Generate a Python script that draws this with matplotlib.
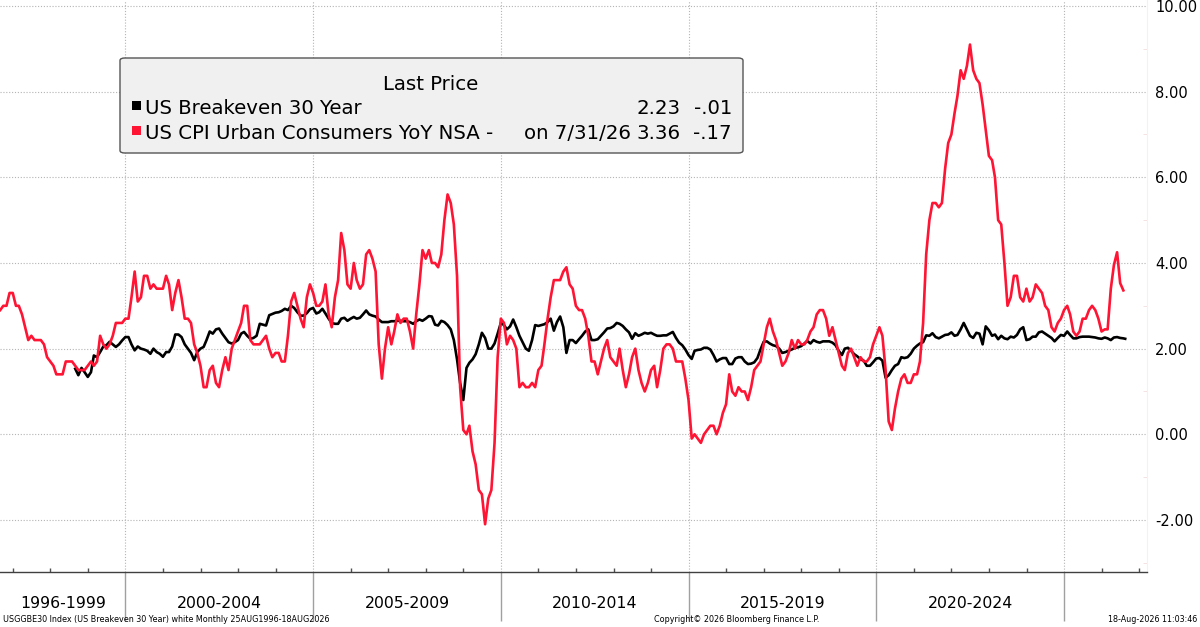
import pandas as pd
import matplotlib
matplotlib.use("Agg")
import matplotlib.pyplot as plt
import matplotlib.dates as mdates
from matplotlib.patches import FancyBboxPatch, Rectangle
from matplotlib.transforms import blended_transform_factory

plt.rcParams['font.family'] = ['DejaVu Sans']
plt.rcParams['axes.unicode_minus'] = False

W, H = 1200, 627
RED = '#ff1434'

# US CPI Urban Consumers YoY NSA, monthly from Aug 1996
cpi_start = "1996-08-01"
cpi_yoy = [
    2.9, 3.0, 3.0, 3.3, 3.3,
    3.0, 3.0, 2.8, 2.5, 2.2, 2.3, 2.2, 2.2, 2.2, 2.1, 1.8, 1.7,
    1.6, 1.4, 1.4, 1.4, 1.7, 1.7, 1.7, 1.6, 1.5, 1.5, 1.5, 1.6,
    1.7, 1.6, 1.7, 2.3, 2.1, 2.0, 2.1, 2.3, 2.6, 2.6, 2.6, 2.7,
    2.7, 3.2, 3.8, 3.1, 3.2, 3.7, 3.7, 3.4, 3.5, 3.4, 3.4, 3.4,
    3.7, 3.5, 2.9, 3.3, 3.6, 3.2, 2.7, 2.7, 2.6, 2.1, 1.9, 1.6,
    1.1, 1.1, 1.5, 1.6, 1.2, 1.1, 1.5, 1.8, 1.5, 2.0, 2.2, 2.4,
    2.6, 3.0, 3.0, 2.2, 2.1, 2.1, 2.1, 2.2, 2.3, 2.0, 1.8, 1.9,
    1.9, 1.7, 1.7, 2.3, 3.1, 3.3, 3.0, 2.7, 2.5, 3.2, 3.5, 3.3,
    3.0, 3.0, 3.1, 3.5, 2.8, 2.5, 3.2, 3.6, 4.7, 4.3, 3.5, 3.4,
    4.0, 3.6, 3.4, 3.5, 4.2, 4.3, 4.1, 3.8, 2.1, 1.3, 2.0, 2.5,
    2.1, 2.4, 2.8, 2.6, 2.7, 2.7, 2.4, 2.0, 2.8, 3.5, 4.3, 4.1,
    4.3, 4.0, 4.0, 3.9, 4.2, 5.0, 5.6, 5.4, 4.9, 3.7, 1.1, 0.1,
    0.0, 0.2, -0.4, -0.7, -1.3, -1.4, -2.1, -1.5, -1.3, -0.2, 1.8, 2.7,
    2.6, 2.1, 2.3, 2.2, 2.0, 1.1, 1.2, 1.1, 1.1, 1.2, 1.1, 1.5,
    1.6, 2.1, 2.7, 3.2, 3.6, 3.6, 3.6, 3.8, 3.9, 3.5, 3.4, 3.0,
    2.9, 2.9, 2.7, 2.3, 1.7, 1.7, 1.4, 1.7, 2.0, 2.2, 1.8, 1.7,
    1.6, 2.0, 1.5, 1.1, 1.4, 1.8, 2.0, 1.5, 1.2, 1.0, 1.2, 1.5,
    1.6, 1.1, 1.5, 2.0, 2.1, 2.1, 2.0, 1.7, 1.7, 1.7, 1.3, 0.8,
    -0.1, 0.0, -0.1, -0.2, 0.0, 0.1, 0.2, 0.2, 0.0, 0.2, 0.5, 0.7,
    1.4, 1.0, 0.9, 1.1, 1.0, 1.0, 0.8, 1.1, 1.5, 1.6, 1.7, 2.1,
    2.5, 2.7, 2.4, 2.2, 1.9, 1.6, 1.7, 1.9, 2.2, 2.0, 2.2, 2.1,
    2.1, 2.2, 2.4, 2.5, 2.8, 2.9, 2.9, 2.7, 2.3, 2.5, 2.2, 1.9,
    1.6, 1.5, 1.9, 2.0, 1.8, 1.6, 1.8, 1.7, 1.7, 1.8, 2.1, 2.3,
    2.5, 2.3, 1.5, 0.3, 0.1, 0.6, 1.0, 1.3, 1.4, 1.2, 1.2, 1.4,
    1.4, 1.7, 2.6, 4.2, 5.0, 5.4, 5.4, 5.3, 5.4, 6.2, 6.8, 7.0,
    7.5, 7.9, 8.5, 8.3, 8.6, 9.1, 8.5, 8.3, 8.2, 7.7, 7.1, 6.5,
    6.4, 6.0, 5.0, 4.9, 4.0, 3.0, 3.2, 3.7, 3.7, 3.2, 3.1, 3.4,
    3.1, 3.2, 3.5, 3.4, 3.3, 3.0, 2.9, 2.5, 2.4, 2.6, 2.7, 2.9,
    3.0, 2.8, 2.4, 2.3, 2.4, 2.7, 2.7, 2.9, 3.0, 2.9, 2.7, 2.4,
    2.45, 2.45, 3.4, 3.95, 4.25, 3.53, 3.36,
]

# US Breakeven 30 Year, monthly from Aug 1998, last point 18 Aug 2026
be_start = "1998-08-01"
be_last_day = "2026-08-18"
be30 = [
    1.53, 1.38, 1.55, 1.45, 1.34,
    1.45, 1.84, 1.80, 1.92, 2.05, 2.08, 2.16, 2.10, 2.04, 2.10, 2.19, 2.27,
    2.27, 2.10, 1.96, 2.05, 2.00, 1.98, 1.95, 1.88, 2.00, 1.92, 1.88, 1.81,
    1.92, 1.92, 2.05, 2.33, 2.33, 2.27, 2.10, 2.00, 1.90, 1.73, 1.92, 2.00,
    2.04, 2.20, 2.40, 2.35, 2.45, 2.47, 2.35, 2.25, 2.15, 2.12, 2.15, 2.20,
    2.35, 2.39, 2.30, 2.23, 2.25, 2.30, 2.58, 2.56, 2.54, 2.78, 2.81, 2.84,
    2.85, 2.88, 2.93, 2.90, 3.00, 2.95, 2.85, 2.77, 2.77, 2.83, 2.92, 2.95,
    2.82, 2.85, 2.93, 2.82, 2.70, 2.60, 2.58, 2.58, 2.70, 2.72, 2.65, 2.70,
    2.74, 2.70, 2.72, 2.80, 2.89, 2.80, 2.77, 2.75, 2.68, 2.62, 2.62, 2.62,
    2.64, 2.64, 2.65, 2.65, 2.64, 2.64, 2.62, 2.58, 2.64, 2.68, 2.65, 2.70,
    2.76, 2.75, 2.56, 2.54, 2.65, 2.62, 2.55, 2.45, 2.20, 1.75, 1.20, 0.80,
    1.55, 1.67, 1.75, 1.87, 2.10, 2.37, 2.25, 2.00, 2.00, 2.12, 2.35, 2.60,
    2.55, 2.45, 2.52, 2.68, 2.50, 2.30, 2.15, 2.00, 1.95, 2.20, 2.55, 2.53,
    2.55, 2.57, 2.62, 2.70, 2.42, 2.62, 2.75, 2.50, 1.90, 2.20, 2.20, 2.13,
    2.22, 2.30, 2.40, 2.45, 2.20, 2.20, 2.22, 2.30, 2.38, 2.47, 2.48, 2.52,
    2.60, 2.58, 2.53, 2.45, 2.38, 2.23, 2.36, 2.30, 2.33, 2.37, 2.35, 2.37,
    2.33, 2.30, 2.30, 2.31, 2.31, 2.35, 2.39, 2.25, 2.14, 2.08, 1.98, 1.85,
    1.76, 1.95, 1.97, 1.98, 2.02, 2.02, 1.98, 1.85, 1.70, 1.75, 1.78, 1.78,
    1.64, 1.64, 1.77, 1.80, 1.80, 1.70, 1.64, 1.65, 1.68, 1.78, 1.98, 2.16,
    2.17, 2.12, 2.08, 2.06, 2.00, 1.90, 1.92, 1.95, 1.98, 2.02, 2.03, 2.06,
    2.12, 2.18, 2.12, 2.20, 2.16, 2.14, 2.17, 2.17, 2.17, 2.14, 2.08, 1.95,
    1.85, 2.00, 2.02, 1.95, 1.87, 1.82, 1.75, 1.72, 1.60, 1.60, 1.68, 1.77,
    1.78, 1.72, 1.32, 1.38, 1.50, 1.60, 1.64, 1.80, 1.78, 1.80, 1.88, 2.00,
    2.07, 2.12, 2.15, 2.31, 2.30, 2.36, 2.27, 2.24, 2.28, 2.32, 2.33, 2.38,
    2.30, 2.32, 2.45, 2.60, 2.45, 2.30, 2.25, 2.37, 2.35, 2.10, 2.52, 2.43,
    2.30, 2.33, 2.22, 2.30, 2.24, 2.22, 2.28, 2.26, 2.32, 2.45, 2.50, 2.20,
    2.22, 2.28, 2.28, 2.38, 2.40, 2.35, 2.30, 2.25, 2.17, 2.25, 2.32, 2.30,
    2.40, 2.32, 2.24, 2.24, 2.27, 2.28, 2.28, 2.28, 2.27, 2.26, 2.24, 2.23,
    2.26, 2.24, 2.20, 2.26, 2.27, 2.25, 2.24, 2.23,
]

period_years = [2000, 2005, 2010, 2015, 2020, 2025]
period_labels = ["1996-1999", "2000-2004", "2005-2009", "2010-2014",
                 "2015-2019", "2020-2024", ""]
y_ticks = [-2, 0, 2, 4, 6, 8, 10]

legend_title = "Last Price"
legend_names = ["US Breakeven 30 Year", "US CPI Urban Consumers YoY NSA -"]
legend_notes = ["", "on 7/31/26"]
legend_last = ["2.23", "3.36"]
legend_chg = ["-.01", "-.17"]

footer_left = "USGGBE30 Index (US Breakeven 30 Year) white Monthly 25AUG1996-18AUG2026"
footer_mid = "Copyright\u00a9 2026 Bloomberg Finance L.P."
footer_right = "18-Aug-2026 11:03:46"

cpi_dates = pd.date_range(cpi_start, periods=len(cpi_yoy), freq="MS") + pd.offsets.MonthEnd(0)
be_dates = pd.date_range(be_start, periods=len(be30), freq="MS") + pd.offsets.MonthEnd(0)
be_dates = be_dates[:-1].append(pd.DatetimeIndex([be_last_day]))


def fx(px):
    return px / W


def fy(py):
    return 1 - py / H


fig = plt.figure(figsize=(W / 100, H / 100), dpi=100)
ax = fig.add_axes([0, fy(572), fx(1147), 572 / H])

ax.plot(be_dates, be30, color='black', lw=1.9, zorder=3, solid_joinstyle='round')
ax.plot(cpi_dates, cpi_yoy, color=RED, lw=1.9, zorder=4, solid_joinstyle='round')

x_left, x_right = pd.Timestamp("1996-08-29"), pd.Timestamp("2027-03-18")
ax.set_xlim(x_left, x_right)
ax.set_ylim(-3.215, 10.14)

# y axis on the right
ax.yaxis.tick_right()
ax.set_yticks(y_ticks)
ax.set_yticklabels([f"{v:.2f}" for v in y_ticks])
ax.set_yticks([-3, -1, 1, 3, 5, 7, 9], minor=True)
ax.tick_params(axis='y', which='major', length=0, pad=6, labelsize=10.5)
ax.tick_params(axis='y', which='minor', length=3, color='#f4dede', direction='in')

# x axis: separators and yearly minor ticks
sep_dates = [pd.Timestamp(f"{y}-01-01") for y in period_years]
ax.set_xticks(sep_dates)
ax.set_xticklabels([])
ax.xaxis.set_minor_locator(mdates.YearLocator(1))
ax.tick_params(axis='x', which='major', length=35, width=1, color='#a0a0a0', direction='out')
ax.tick_params(axis='x', which='minor', length=3, width=1, color='#505050', direction='in')

for side in ['top', 'left']:
    ax.spines[side].set_visible(False)
ax.spines['right'].set_color('#f2f2f2')
ax.spines['bottom'].set_color('#404040')
ax.spines['bottom'].set_linewidth(1)

ax.grid(True, which='major', color='#b4b4b4', lw=0.8, linestyle=(0, (1, 1.6)))
ax.set_axisbelow(True)

# period labels centered between separators
bounds = [mdates.date2num(x_left)] + [mdates.date2num(d) for d in sep_dates] + \
    [mdates.date2num(x_right)]
trans = blended_transform_factory(ax.transData, ax.transAxes)
for lab, a, b in zip(period_labels, bounds[:-1], bounds[1:]):
    if lab:
        ax.text((a + b) / 2, -(603 - 572) / 572, lab, transform=trans,
                ha='center', va='center', fontsize=11.3)

# legend box
box = FancyBboxPatch((fx(120), fy(153)), fx(743) - fx(120), fy(58) - fy(153),
                     boxstyle="round,pad=0,rounding_size=0.004",
                     transform=fig.transFigure, facecolor='#f0f0f0',
                     edgecolor='#555555', lw=1, zorder=5)
fig.patches.append(box)

lfs = 14.2
fig.text(fx(431), fy(90), legend_title, ha='center', va='baseline', fontsize=lfs, zorder=6)
row_base = [114, 138.5]
row_box = [101, 126]
for i, color in enumerate(['black', RED]):
    sq = Rectangle((fx(132), fy(row_box[i] + 9)), fx(9), 9 / H,
                   transform=fig.transFigure, facecolor=color, edgecolor='none', zorder=6)
    fig.patches.append(sq)
    fig.text(fx(145), fy(row_base[i]), legend_names[i], ha='left', va='baseline',
             fontsize=lfs, zorder=6)
    if legend_notes[i]:
        fig.text(fx(631), fy(row_base[i]), legend_notes[i], ha='right', va='baseline',
                 fontsize=lfs, zorder=6)
    fig.text(fx(681), fy(row_base[i]), legend_last[i], ha='right', va='baseline',
             fontsize=lfs, zorder=6)
    fig.text(fx(732), fy(row_base[i]), legend_chg[i], ha='right', va='baseline',
             fontsize=lfs, zorder=6)

# footer
fig.text(fx(3), fy(620), footer_left, ha='left', va='center', fontsize=5.8)
fig.text(fx(737), fy(620), footer_mid, ha='center', va='center', fontsize=5.8)
fig.text(fx(1197), fy(620), footer_right, ha='right', va='center', fontsize=5.8)

fig.savefig("out.png", dpi=100, facecolor='white')
